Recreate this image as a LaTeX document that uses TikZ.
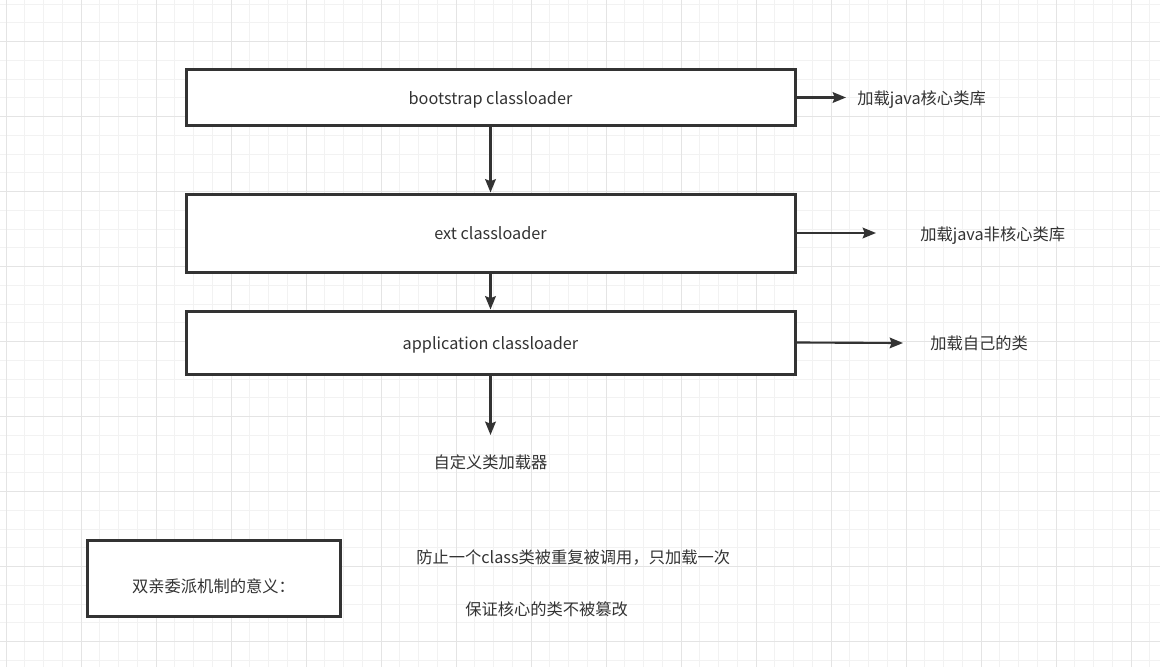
\documentclass[tikz,border=0pt]{standalone}
\usepackage{fontspec}
\setmainfont{Noto Sans CJK SC}
\usetikzlibrary{arrows.meta}
\definecolor{ink}{HTML}{333333}
\definecolor{gminor}{HTML}{F2F2F2}
\definecolor{gmajor}{HTML}{E4E4E4}
\tikzset{
  txt/.style={font=\fontsize{12.2pt}{14pt}\selectfont, text height=10.8pt, text depth=0.4pt},
  loaderbox/.style={draw=ink, line width=2.25pt, fill=white, text=ink, minimum width=456.75pt, inner sep=0pt, txt},
  lbl/.style={text=ink, inner sep=0pt, txt},
  conn/.style={draw=ink, line width=1.6pt, -{Stealth[length=10pt, width=8pt, inset=1.5pt]}},
  gridminor/.style={draw=gminor, line width=0.75pt},
  gridmajor/.style={draw=gmajor, line width=0.75pt}
}
\begin{document}
\begin{tikzpicture}[x=0.75pt, y=-0.75pt]
\useasboundingbox (0,0) rectangle (1160,667);
\fill[white] (0,0) rectangle (1160,667);
% grid
\foreach \i in {0,...,61} {
  \pgfmathsetmacro\xx{6+18.75*\i}
  \draw[gridminor] (\xx,0) -- (\xx,667);
}
\foreach \i in {0,...,35} {
  \pgfmathsetmacro\yy{4.05+18.75*\i}
  \draw[gridminor] (0,\yy) -- (1160,\yy);
}
\foreach \i in {0,...,15} {
  \pgfmathsetmacro\xx{6+75*\i}
  \draw[gridmajor] (\xx,0) -- (\xx,667);
}
\foreach \i in {0,...,8} {
  \pgfmathsetmacro\yy{41.3+75*\i}
  \draw[gridmajor] (0,\yy) -- (1160,\yy);
}
% boxes
\node[loaderbox, minimum height=41.25pt] (b1) at (490.5,97.5) {bootstrap classloader};
\node[loaderbox, minimum height=58.5pt] (b2) at (490.5,233) {ext classloader};
\node[loaderbox, minimum height=47.25pt] (b3) at (490.5,342.5) {application classloader};
\node[loaderbox, minimum width=189.75pt, minimum height=57pt] (b4) at (213.5,578) {};
\node[lbl] (b4t) at (213.5,586) {双亲委派机制的意义：};
% side labels
\coordinate (e1) at (846,97.5);
\coordinate (e2) at (876,233);
\coordinate (e3) at (903,343);
\coordinate (e4) at (490.5,435);
\node[lbl, anchor=west] (t1) at (857,98) {加载java核心类库};
\node[lbl, anchor=west] (t2) at (920,234) {加载java非核心类库};
\node[lbl, anchor=west] (t3) at (930,343) {加载自己的类};
\node[lbl] (t4) at (490.5,462) {自定义类加载器};
\node[lbl, anchor=west] (m1) at (416,557) {防止一个class类被重复被调用，只加载一次};
\node[lbl, anchor=west] (m2) at (465,609) {保证核心的类不被篡改};
% connectors
\draw[conn] (b1.south) -- (b2.north);
\draw[conn] (b2.south) -- (b3.north);
\draw[conn] (b3.south) -- (e4);
\draw[conn] (b1.east) -- (e1);
\draw[conn] (b2.east) -- (e2);
\draw[conn] (b3.east) -- (e3);
\end{tikzpicture}
\end{document}
